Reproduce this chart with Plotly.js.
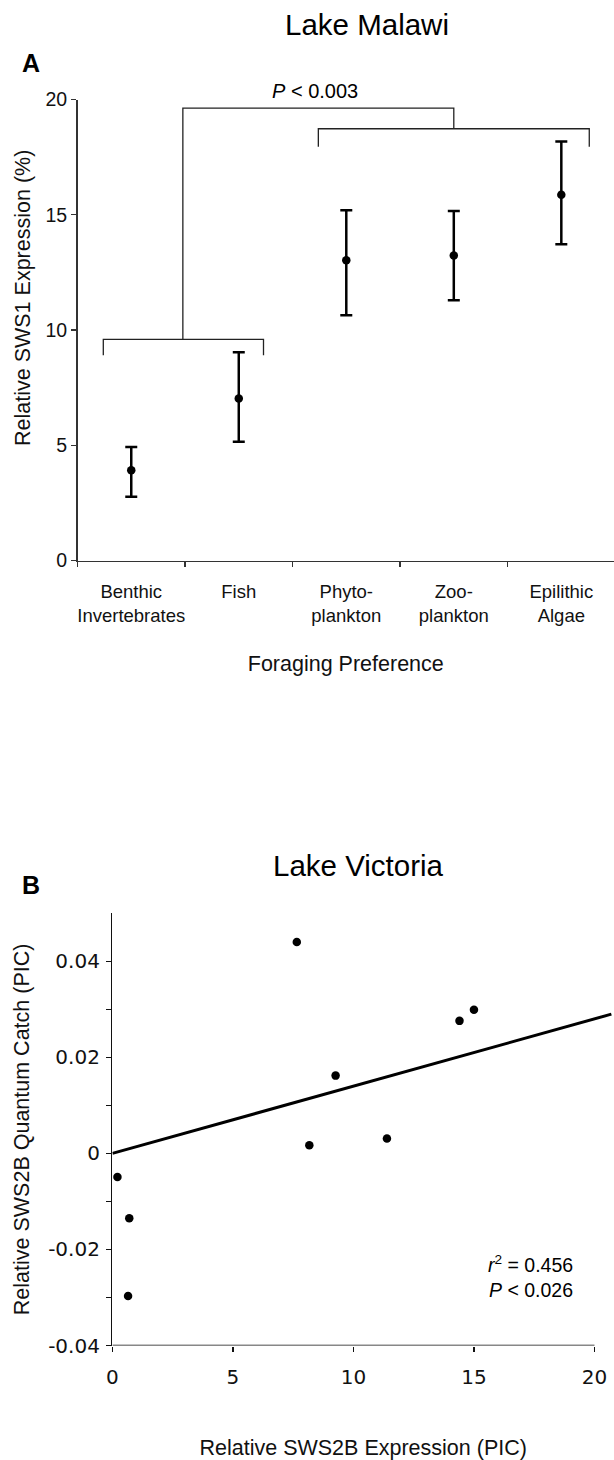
<!DOCTYPE html>
<html>
<head>
<meta charset="utf-8">
<script src="https://cdn.plot.ly/plotly-3.0.1.min.js"></script>
<style>html,body{margin:0;padding:0;background:#fff;}#chart{width:614px;height:1460px;}</style>
</head>
<body>
<div id="chart"></div>
<script>
// Panel A – Lake Malawi
const categories = ['Benthic<br>Invertebrates', 'Fish', 'Phyto-<br>plankton', 'Zoo-<br>plankton', 'Epilithic<br>Algae'];
const meanSWS1 = [3.92, 7.03, 13.03, 13.23, 15.87];
const errPlus = [1.0, 2.0, 2.16, 1.93, 2.31];
const errMinus = [1.15, 1.88, 2.39, 1.94, 2.15];
const yTicksA = [0, 5, 10, 15, 20];

// Panel B – Lake Victoria
const sws2bExpr  = [7.65, 14.4, 15.0, 9.26, 8.17, 11.39, 0.21, 0.70, 0.65];
const sws2bCatch = [0.044, 0.0276, 0.0299, 0.0162, 0.0017, 0.0031, -0.0049, -0.0135, -0.0297];
const fitX = [0, 20.7];
const fitY = [0.0, 0.029];
const xTicksB = [0, 5, 10, 15, 20];
const yTickValsB = [-0.04, -0.03, -0.02, -0.01, 0, 0.01, 0.02, 0.03, 0.04];
const yTickTextB = ['-0.04', '', '-0.02', '', '0', '', '0.02', '', '0.04'];

const W = 614, H = 1460;
const px = v => v / W;
const py = v => 1 - v / H;

const arial = 'Liberation Sans, Arial, sans-serif';
const deja = 'DejaVu Sans, Verdana, sans-serif';

const traces = [
  {
    type: 'scatter', mode: 'markers', x: categories, y: meanSWS1,
    xaxis: 'x', yaxis: 'y',
    marker: {color: '#000', size: 8.5},
    error_y: {type: 'data', symmetric: false, array: errPlus, arrayminus: errMinus,
              color: '#000', thickness: 2.5, width: 6},
    showlegend: false, hoverinfo: 'skip'
  },
  {
    type: 'scatter', mode: 'lines', x: fitX, y: fitY,
    xaxis: 'x2', yaxis: 'y2',
    line: {color: '#000', width: 3},
    showlegend: false, hoverinfo: 'skip'
  },
  {
    type: 'scatter', mode: 'markers', x: sws2bExpr, y: sws2bCatch,
    xaxis: 'x2', yaxis: 'y2',
    marker: {color: '#000', size: 8.5},
    showlegend: false, hoverinfo: 'skip'
  }
];

const brLine = {color: '#222', width: 1.3};
const layout = {
  width: W, height: H,
  margin: {l: 0, r: 0, t: 0, b: 0},
  paper_bgcolor: '#fff', plot_bgcolor: '#fff',
  showlegend: false,
  xaxis: {
    domain: [px(77.5), 1], range: [-0.5, 4.49], type: 'category',
    showline: true, linecolor: '#333', linewidth: 1.5,
    ticks: 'outside', tickson: 'boundaries', ticklen: 5, tickcolor: '#333', tickwidth: 1.2,
    showgrid: false, zeroline: false, fixedrange: true, tickangle: 0,
    tickfont: {family: arial, size: 18.5, color: '#111'},
    ticklabelstandoff: 14,
    title: {text: 'Foraging Preference', font: {family: arial, size: 21.5, color: '#111'}, standoff: 30}
  },
  yaxis: {
    domain: [py(560.5), py(99.5)], range: [0, 20],
    tickvals: yTicksA, ticktext: yTicksA.map(String),
    showline: true, linecolor: '#333', linewidth: 1.5,
    ticks: 'outside', ticklen: 5, tickcolor: '#333', tickwidth: 1.2,
    showgrid: false, zeroline: false, fixedrange: true,
    tickfont: {family: arial, size: 19.5, color: '#111'}
  },
  xaxis2: {
    domain: [px(112.4), 1], range: [0, 20.81], anchor: 'y2',
    tickvals: xTicksB, ticktext: xTicksB.map(String),
    showline: false,
    ticks: 'outside', ticklen: 5, tickcolor: '#111', tickwidth: 1.2,
    showgrid: false, zeroline: false, fixedrange: true, tickangle: 0,
    tickfont: {family: deja, size: 20, color: '#111'},
    ticklabelstandoff: 8,
    title: {text: 'Relative SWS2B Expression (PIC)', font: {family: arial, size: 21.5, color: '#111'}, standoff: 55}
  },
  yaxis2: {
    domain: [py(1345.5), py(913.3)], range: [-0.04, 0.05], anchor: 'x2',
    tickvals: yTickValsB, ticktext: yTickTextB,
    showline: true, linecolor: '#111', linewidth: 1.5,
    ticks: 'outside', ticklen: 5, tickcolor: '#111', tickwidth: 1.2,
    showgrid: false, zeroline: false, fixedrange: true,
    tickfont: {family: deja, size: 20, color: '#111'},
    ticklabelstandoff: 2,
    title: {text: 'Relative SWS2B Quantum Catch (PIC)', font: {family: arial, size: 21.5, color: '#111'}, standoff: 12}
  },
  shapes: [
    // lower bracket (Benthic + Fish)
    {type: 'path', xref: 'x', yref: 'y', path: 'M -0.26,8.9 L -0.26,9.59 L 1.23,9.59 L 1.23,8.9', line: brLine},
    // connector
    {type: 'path', xref: 'x', yref: 'y', path: 'M 0.48,9.59 L 0.48,19.63 L 3.0,19.63 L 3.0,18.73', line: brLine},
    // upper bracket (plankton + algae)
    {type: 'path', xref: 'x', yref: 'y', path: 'M 1.74,17.95 L 1.74,18.73 L 4.26,18.73 L 4.26,17.95', line: brLine},
    // bottom x-axis line (ends at 20)
    {type: 'line', xref: 'x2', yref: 'y2', x0: 0, x1: 20, y0: -0.04, y1: -0.04, line: {color: '#111', width: 1.5}}
  ],
  annotations: [
    {xref: 'paper', yref: 'paper', x: px(23), y: py(298), text: 'Relative SWS1 Expression (%)', showarrow: false,
     textangle: -90, xanchor: 'center', yanchor: 'middle', font: {family: arial, size: 21.5, color: '#111'}},
    {xref: 'paper', yref: 'paper', x: px(367), y: py(25), text: 'Lake Malawi', showarrow: false,
     xanchor: 'center', yanchor: 'middle', font: {family: arial, size: 29.5, color: '#000'}},
    {xref: 'paper', yref: 'paper', x: px(31), y: py(63), text: '<b>A</b>', showarrow: false,
     xanchor: 'center', yanchor: 'middle', font: {family: arial, size: 25, color: '#000'}},
    {xref: 'paper', yref: 'paper', x: px(315), y: py(91), text: '<i>P</i> < 0.003', showarrow: false,
     xanchor: 'center', yanchor: 'middle', font: {family: arial, size: 20, color: '#000'}},
    {xref: 'paper', yref: 'paper', x: px(358.5), y: py(866), text: 'Lake Victoria', showarrow: false,
     xanchor: 'center', yanchor: 'middle', font: {family: arial, size: 29.5, color: '#000'}},
    {xref: 'paper', yref: 'paper', x: px(31), y: py(885), text: '<b>B</b>', showarrow: false,
     xanchor: 'center', yanchor: 'middle', font: {family: arial, size: 25, color: '#000'}},
    {xref: 'paper', yref: 'paper', x: px(575), y: py(1264), text: '<i>r</i><sup>2</sup> = 0.456', showarrow: false,
     xanchor: 'right', yanchor: 'middle', font: {family: arial, size: 19.5, color: '#000'}},
    {xref: 'paper', yref: 'paper', x: px(575), y: py(1290), text: '<i>P</i> < 0.026', showarrow: false,
     xanchor: 'right', yanchor: 'middle', font: {family: arial, size: 19.5, color: '#000'}}
  ]
};

Plotly.newPlot('chart', traces, layout, {staticPlot: true, displayModeBar: false});
</script>
</body>
</html>
